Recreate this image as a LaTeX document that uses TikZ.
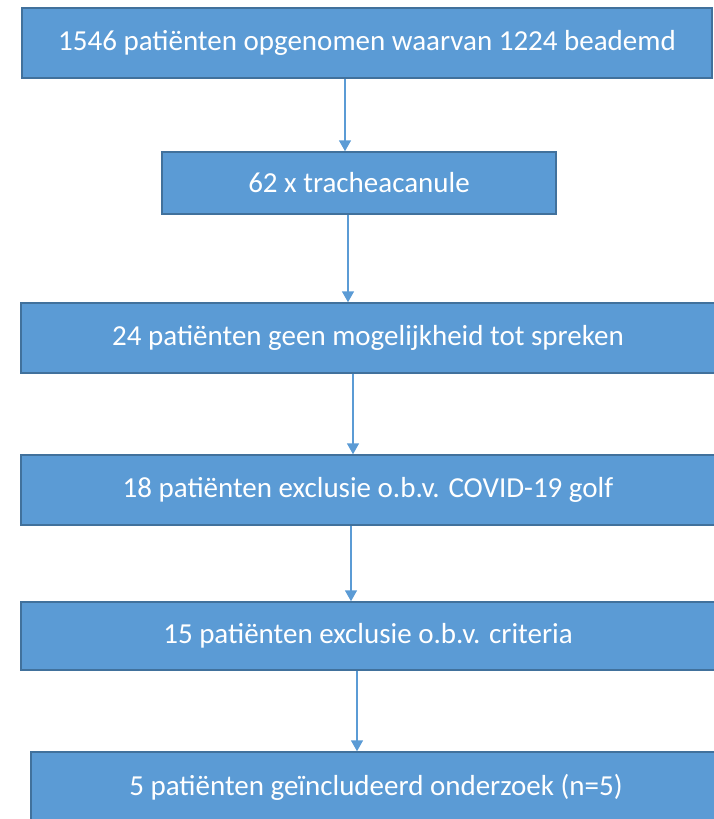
\documentclass[tikz,border=0pt]{standalone}
\usepackage{fontspec}
\setmainfont{Carlito}
\usetikzlibrary{arrows.meta}
\definecolor{boxblue}{HTML}{5B9BD5}
\definecolor{rimblue}{HTML}{41719C}
\tikzset{
	stap/.style={rectangle,fill=boxblue,draw=rimblue,line width=1.5pt,text=white,
		inner sep=0pt,font=\fontsize{29}{34}\selectfont},
	pijl/.style={draw=boxblue,line width=1.6pt,-{Triangle[width=12pt,length=11pt]}}
}
\begin{document}
\begin{tikzpicture}[x=1pt,y=-1pt]
	\useasboundingbox (0,0) rectangle (714,819);
	\clip (0,0) rectangle (714,819);
	% blokken
	\node[stap,minimum width=690pt,minimum height=70pt] (b1) at (367,43) {1546 patiënten opgenomen waarvan 1224 beademd};
	\node[stap,minimum width=394pt,minimum height=62pt] (b2) at (359,183) {62 x tracheacanule};
	\node[stap,minimum width=694pt,minimum height=70pt] (b3) at (368,338) {24 patiënten geen mogelijkheid tot spreken};
	\node[stap,minimum width=694pt,minimum height=70pt] (b4) at (368,490) {18 patiënten exclusie o.b.v. COVID-19 golf};
	\node[stap,minimum width=694pt,minimum height=68pt] (b5) at (368,636) {15 patiënten exclusie o.b.v. criteria};
	\node[stap,minimum width=690pt,minimum height=70pt] (b6) at (376,787) {5 patiënten geïncludeerd onderzoek (n=5)};
	% pijlen
	\draw[pijl] (b1.south -| 345,0) -- (b2.north -| 345,0);
	\draw[pijl] (b2.south -| 348,0) -- (b3.north -| 348,0);
	\draw[pijl] (b3.south -| 353,0) -- (b4.north -| 353,0);
	\draw[pijl] (b4.south -| 351,0) -- (b5.north -| 351,0);
	\draw[pijl] (b5.south -| 357,0) -- (b6.north -| 357,0);
\end{tikzpicture}
\end{document}
